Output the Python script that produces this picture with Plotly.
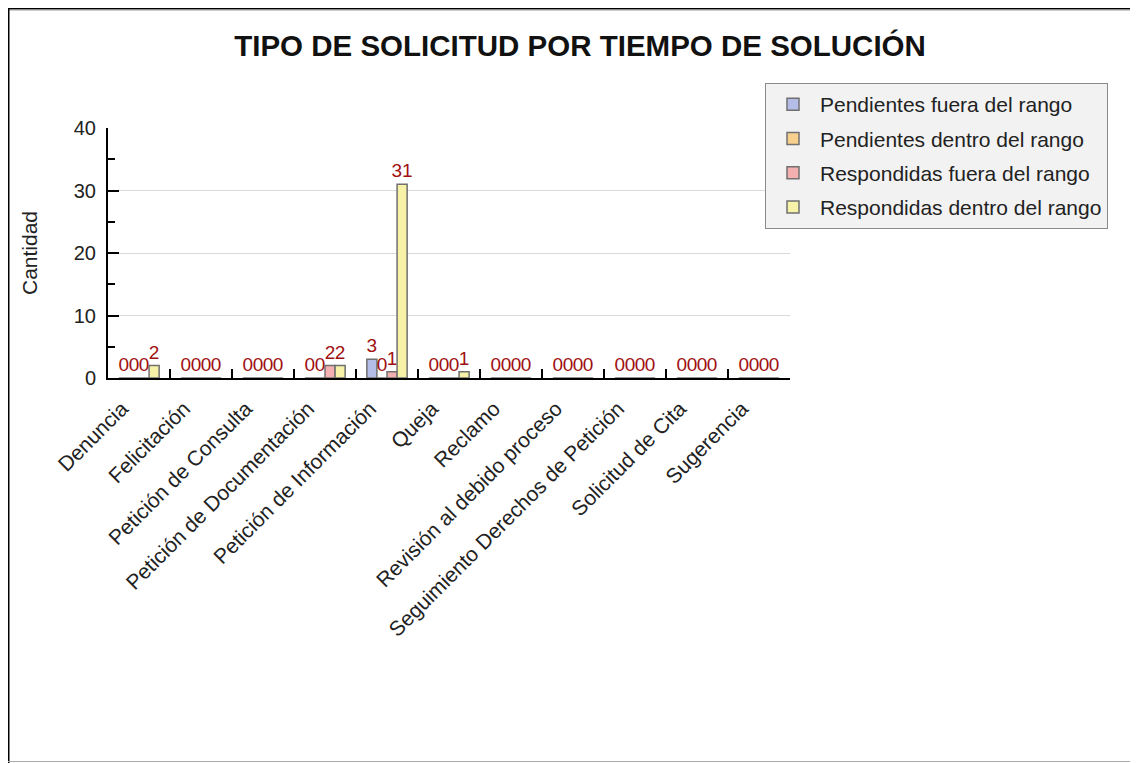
import plotly.graph_objects as go

categories = ["Denuncia", "Felicitación", "Petición de Consulta", "Petición de Documentación",
              "Petición de Información", "Queja", "Reclamo", "Revisión al debido proceso",
              "Seguimiento Derechos de Petición", "Solicitud de Cita", "Sugerencia"]
pend_fuera = [0, 0, 0, 0, 3, 0, 0, 0, 0, 0, 0]
pend_dentro = [0, 0, 0, 0, 0, 0, 0, 0, 0, 0, 0]
resp_fuera = [0, 0, 0, 2, 1, 0, 0, 0, 0, 0, 0]
resp_dentro = [2, 0, 0, 2, 31, 1, 0, 0, 0, 0, 0]

series = [
    ("Pendientes fuera del rango", pend_fuera, "#b4bce8"),
    ("Pendientes dentro del rango", pend_dentro, "#f6d08c"),
    ("Respondidas fuera del rango", resp_fuera, "#f4b0b0"),
    ("Respondidas dentro del rango", resp_dentro, "#f7f2a8"),
]

FONT = "Liberation Sans, Arial, sans-serif"
W, H = 1130, 755
L, T, PW, PH = 100, 120, 682, 250

fig = go.Figure()
for i, (name, vals, col) in enumerate(series):
    fig.add_trace(go.Bar(
        x=categories, y=vals, name=name, legendgroup="g%d" % i,
        marker=dict(color=col, line=dict(color="#707070", width=1.5)),
        text=[str(v) for v in vals], textposition="outside",
        constraintext="none",
        textfont=dict(color="#a01010", size=19, family=FONT),
        cliponaxis=False,
    ))

fig.update_layout(
    width=W, height=H,
    margin=dict(l=L, r=W - L - PW, t=T, b=H - T - PH, pad=0),
    paper_bgcolor="white", plot_bgcolor="white",
    barmode="group", bargap=0.35, bargroupgap=0,
    font=dict(family=FONT, size=18, color="#222"),
    title=dict(text="<b>TIPO DE SOLICITUD POR TIEMPO DE SOLUCIÓN</b>",
               x=572 / W, xanchor="center", y=1 - 38 / H, yanchor="middle",
               font=dict(size=29.5, color="#111", family=FONT)),
    showlegend=True,
    legend=dict(x=(757 - L) / PW, y=(T + PH - 75) / PH, xanchor="left", yanchor="top",
                bgcolor="#f2f2f2", bordercolor="#8a8a8a", borderwidth=1,
                font=dict(size=21, color="#222", family=FONT),
                tracegroupgap=4, itemwidth=44),
    xaxis=dict(
        tickangle=-45, tickson="boundaries", ticks="inside", ticklen=9,
        tickcolor="#000", tickwidth=1.5, showline=True, linecolor="#000", linewidth=2,
        showgrid=False, tickfont=dict(size=21, color="#222", family=FONT),
        ticklabelstandoff=8, ticklabelshift=-17,
    ),
    yaxis=dict(
        range=[0, 40], dtick=10, ticks="inside", ticklen=11, tickcolor="#000", tickwidth=1.5,
        showline=True, linecolor="#000", linewidth=2,
        showgrid=True, gridcolor="#d9d9d9", gridwidth=1,
        minor=dict(dtick=5, ticks="inside", ticklen=7, tickcolor="#000", tickwidth=1.5,
                   showgrid=False),
        tickfont=dict(size=20, color="#222", family=FONT),
        ticklabelstandoff=6,
        title=dict(text="Cantidad", font=dict(size=21, color="#222", family=FONT), standoff=30),
        zeroline=False,
    ),
)

# outer frame (top, left black; bottom gray)
px_x = lambda p: (p - L) / PW
px_y = lambda p: (T + PH - p) / PH
fig.add_shape(type="line", xref="paper", yref="paper",
              x0=px_x(0), x1=px_x(W), y0=px_y(0.5), y1=px_y(0.5),
              line=dict(color="#000", width=2))
fig.add_shape(type="line", xref="paper", yref="paper",
              x0=px_x(0), x1=px_x(W), y0=px_y(2), y1=px_y(2),
              line=dict(color="#999", width=1))
fig.add_shape(type="line", xref="paper", yref="paper",
              x0=px_x(0.5), x1=px_x(0.5), y0=px_y(0), y1=px_y(H),
              line=dict(color="#000", width=2))
fig.add_shape(type="line", xref="paper", yref="paper",
              x0=px_x(0), x1=px_x(W), y0=px_y(753.5), y1=px_y(753.5),
              line=dict(color="#aaaaaa", width=1))

fig.write_html("out.html")
